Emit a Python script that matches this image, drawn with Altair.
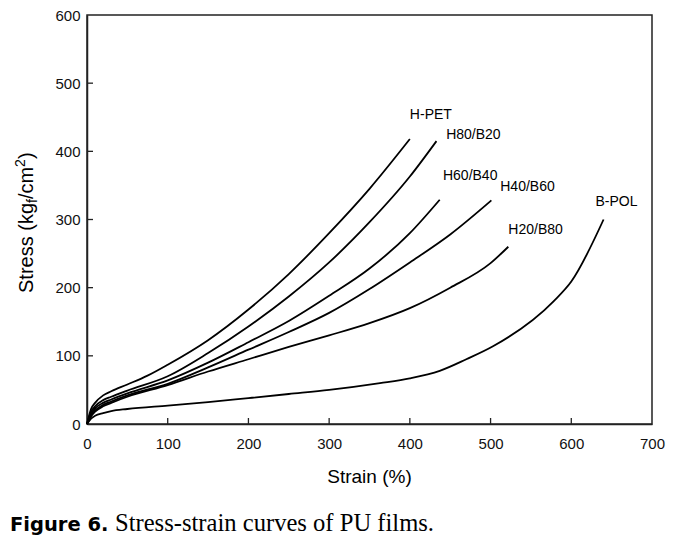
import altair as alt
import pandas as pd

# ---- data ----
hpet_x = [0, 5, 10, 20, 30, 50, 75, 100, 150, 200, 250, 300, 350, 400]
hpet_y = [0, 22, 31, 42, 48, 58, 71, 87, 123, 168, 220, 280, 345, 418]

h80_x = [0, 5, 10, 20, 30, 50, 100, 150, 200, 250, 300, 350, 400, 433]
h80_y = [0, 18, 26, 35, 40, 49, 70, 104, 143, 187, 237, 296, 363, 415]

h60_x = [0, 5, 10, 20, 30, 50, 100, 150, 200, 250, 300, 350, 400, 437]
h60_y = [0, 15, 23, 31, 36, 45, 64, 90, 120, 151, 188, 228, 280, 329]

h40_x = [0, 5, 10, 20, 30, 50, 100, 150, 200, 250, 300, 350, 400, 450, 501]
h40_y = [0, 13, 20, 28, 33, 42, 59, 83, 109, 135, 163, 198, 237, 278, 328]

h20_x = [0, 5, 10, 20, 30, 50, 100, 150, 200, 250, 300, 350, 400, 450, 500, 522]
h20_y = [0, 11, 18, 26, 31, 40, 57, 77, 95, 113, 130, 148, 170, 200, 236, 260]

bpol_x = [0, 5, 10, 20, 30, 50, 100, 150, 200, 250, 300, 363, 400, 437, 470, 503, 578, 600, 640]
bpol_y = [0, 8, 12, 16, 19, 22, 27, 32, 38, 44, 50, 60, 67, 78, 95, 114, 180, 209, 300]

series_names = ["H-PET", "H80/B20", "H60/B40", "H40/B60", "H20/B80", "B-POL"]
series_xs = [hpet_x, h80_x, h60_x, h40_x, h20_x, bpol_x]
series_ys = [hpet_y, h80_y, h60_y, h40_y, h20_y, bpol_y]

# label anchors (data coordinates, left edge / vertical middle)
label_x = [400, 445, 441, 512, 522, 630]
label_y = [454, 424, 364, 347, 284, 326]

x_ticks = [0, 100, 200, 300, 400, 500, 600, 700]
y_ticks = [0, 100, 200, 300, 400, 500, 600]

# ---- tables ----
rows = []
for name, xs, ys in zip(series_names, series_xs, series_ys):
    for i, (a, b) in enumerate(zip(xs, ys)):
        rows.append({"series": name, "order": i, "strain": a, "stress": b})
df = pd.DataFrame(rows)
labels = pd.DataFrame({"name": series_names, "lx": label_x, "ly": label_y})
xt = pd.DataFrame({"v": x_ticks[1:-1]})
yt = pd.DataFrame({"v": y_ticks[1:-1]})
one = pd.DataFrame({"a": [0]})

W, H = 565, 409
FONT = "Liberation Sans"
AX = "#222222"

xs_ = alt.Scale(domain=[0, 700], nice=False, zero=False)
ys_ = alt.Scale(domain=[0, 600], nice=False, zero=False)
xaxis = alt.Axis(values=x_ticks, title=None, ticks=False, tickSize=0, grid=False,
                 labelFontSize=15, labelFont=FONT, labelColor="#111", labelPadding=12,
                 labelFlush=False, domainColor=AX, domainWidth=1.5)
yaxis = alt.Axis(values=y_ticks, title=None, ticks=False, tickSize=0, grid=False,
                 labelFontSize=15, labelFont=FONT, labelColor="#111", labelPadding=7,
                 labelFlush=False, domainColor=AX, domainWidth=1.5)

lines = alt.Chart(df).mark_line(color="black", strokeWidth=1.8, interpolate="monotone").encode(
    x=alt.X("strain:Q", scale=xs_, axis=xaxis),
    y=alt.Y("stress:Q", scale=ys_, axis=yaxis),
    detail="series:N",
    order="order:Q",
)

texts = alt.Chart(labels).mark_text(align="left", baseline="middle", font=FONT,
                                     fontSize=14, color="black").encode(
    x=alt.X("lx:Q", scale=xs_, axis=xaxis),
    y=alt.Y("ly:Q", scale=ys_, axis=yaxis),
    text="name:N",
)

xtick = alt.Chart(xt).mark_rule(color=AX, strokeWidth=1.3).encode(
    x=alt.X("v:Q", scale=xs_, axis=xaxis),
    y=alt.value(H), y2=alt.value(H - 6),
)
ytick = alt.Chart(yt).mark_rule(color=AX, strokeWidth=1.3).encode(
    y=alt.Y("v:Q", scale=ys_, axis=yaxis),
    x=alt.value(0), x2=alt.value(6),
)

def txt(s, x, y, size, angle=0, align="left", font=FONT, weight="normal"):
    kw = dict(align=align, baseline="alphabetic", font=font, fontSize=size,
              color="black", fontWeight=weight, text=s)
    if angle:
        kw["angle"] = angle
    return alt.Chart(one).mark_text(**kw).encode(x=alt.value(x), y=alt.value(y))

# x axis title
xtitle = txt("Strain (%)", W / 2, 468, 19, align="center")

# y axis title with subscript / superscript pieces (rotated)
yb = -54
y0 = 278
ytitle = [
    txt("Stress (kg", yb, y0, 20, angle=270),
    txt("f", yb + 4, y0 - 90.0, 14, angle=270),
    txt("/cm", yb, y0 - 93.9, 20, angle=270),
    txt("2", yb - 8, y0 - 126.1, 14, angle=270),
    txt(")", yb, y0 - 133.9, 20, angle=270),
]

cap1 = txt("Figure 6.", -77, 516, 19.5, font="DejaVu Sans", weight="bold")
cap2 = txt("Stress-strain curves of PU films.", 28, 516, 24.6, font="Liberation Serif")

chart = alt.layer(lines, texts, xtick, ytick, xtitle, *ytitle, cap1, cap2).properties(
    width=W, height=H,
    autosize=alt.AutoSizeParams(type="none"),
    padding={"left": 79, "top": 7, "right": 24, "bottom": 112},
    background="white",
).configure_view(stroke=AX, strokeWidth=1.5)

chart.save("out.html", embed_options={"renderer": "svg", "actions": False})
